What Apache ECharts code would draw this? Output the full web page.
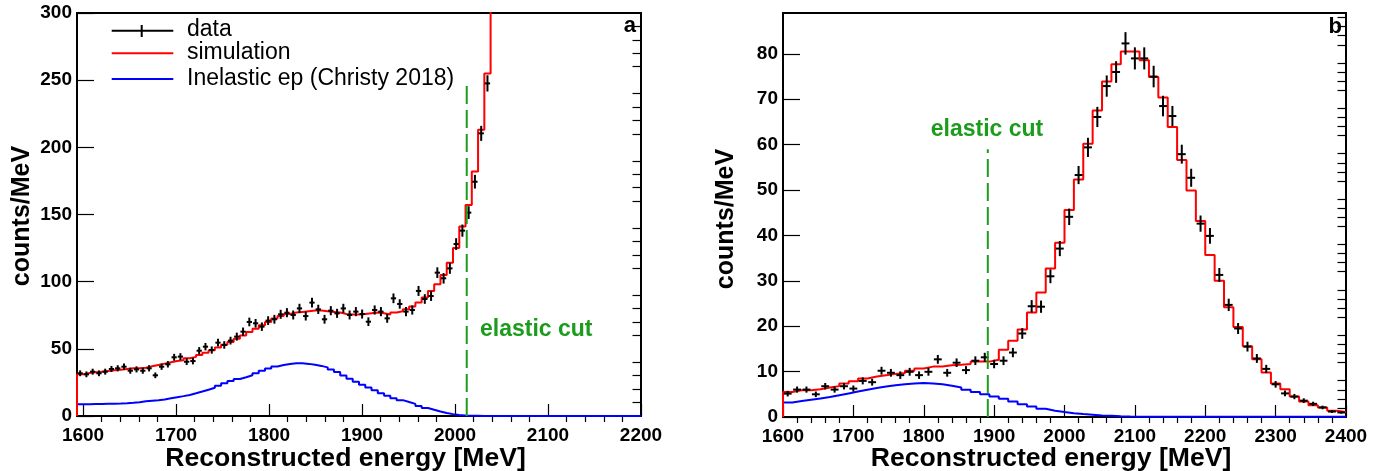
<!DOCTYPE html>
<html><head><meta charset="utf-8">
<script src="https://cdn.jsdelivr.net/npm/echarts@6/dist/echarts.min.js"></script>
<style>html,body{margin:0;padding:0;background:#fff}#c{width:1383px;height:471px}</style>
</head><body><div id="c"></div>
<script>
// ---------- panel a ----------
const aXMin = 1593.5, aXMax = 2200, aBinCount = 90;
const aYMax = 300;
const aXTicks = [1600, 1700, 1800, 1900, 2000, 2100, 2200];
const aYTicks = [0, 50, 100, 150, 200, 250, 300];
const aData = [31.8, 31.0, 33.0, 31.8, 33.0, 35.0, 35.5, 36.7, 33.7, 34.7, 33.7, 35.5, 30.3, 36.7, 38.5, 43.7, 44.2, 40.4, 40.9, 48.6,
  51.6, 49.1, 54.6, 52.9, 56.1, 59.1, 62.8, 70.0, 69.0, 66.5, 71.0, 72.0, 75.7, 76.9, 75.2, 80.1, 74.4, 84.4, 79.4, 72.0,
  78.4, 76.4, 80.1, 75.2, 77.7, 75.9, 70.2, 78.9, 77.7, 72.7, 87.6, 83.4, 77.7, 78.9, 93.1, 87.1, 89.3, 106.7, 102.5, 109.9,
  128.0, 138.0, 151.4, 174.4, 210.4, 247.6];
const aSim = [31, 32, 32.5, 33, 33.5, 34, 34.5, 35, 35.5, 35.5, 36, 37, 38, 39, 40, 41, 41.5, 43, 44, 45.5,
  47, 49, 51, 53, 55, 57.5, 60, 62.5, 65, 67.5, 70, 72.5, 74.5, 76, 77, 77.5, 78, 78.5, 78.5, 78,
  77.5, 77, 76, 75.5, 75.5, 76, 76.5, 77, 76.5, 75.5, 77, 78, 79.5, 81.5, 84.5, 88.2, 93, 98, 105, 114,
  125, 141, 157, 182, 213, 255, 420];
const aInel = [8.7, 8.8, 8.9, 9.0, 9.1, 9.2, 9.3, 9.5, 9.8, 10.3, 10.9, 11.3, 11.7, 12.3, 13.2, 14.0, 14.8, 15.7, 16.9, 18.2,
  19.6, 21.0, 22.6, 24.3, 26.1, 27.6, 28.9, 30.3, 31.8, 33.6, 35.3, 36.8, 37.9, 38.7, 39.2, 39.2, 38.8, 38.1, 37.3, 36.2,
  34.7, 32.8, 30.2, 27.8, 25.5, 23.3, 21.2, 19.2, 17.0, 15.0, 13.3, 11.8, 10.4, 9.0, 7.5, 6.0, 4.6, 3.3, 2.2, 1.4,
  0.8, 0.4, 0.2, 0.1, 0, 0, 0, 0, 0, 0, 0, 0, 0, 0, 0, 0, 0, 0, 0, 0,
  0, 0, 0, 0, 0, 0, 0, 0, 0, 0];
const aCut = [2012.6, 250];

// ---------- panel b ----------
const bXMin = 1600, bXMax = 2400, bBinCount = 60;
const bYMax = 89;
const bXTicks = [1600, 1700, 1800, 1900, 2000, 2100, 2200, 2300, 2400];
const bYTicks = [0, 10, 20, 30, 40, 50, 60, 70, 80];
const bData = [5.15, 6.04, 6.04, 5.0, 6.78, 6.04, 6.78, 6.26, 7.96, 7.67, 10.19, 9.74, 9.22, 9.96, 9.22, 9.96, 12.7, 9.74, 11.96, 10.33,
  12.4, 13.15, 11.67, 12.4, 14.2, 18.4, 24.4, 24.3, 31.0, 37.1, 44.1, 53.3, 59.4, 66.1, 72.9, 76.0, 82.3, 79.0, 79.0, 75.0,
  68.5, 66.3, 57.9, 52.7, 42.6, 39.9, 31.3, 24.7, 19.5, 15.5, 12.9, 10.6, 7.2, 5.2, 4.5, 3.6, 2.9, 2.1, 1.2, 1.0];
const bSim = [5.5, 5.9, 5.9, 6.1, 6.5, 6.8, 7.4, 7.9, 8.5, 8.9, 9.2, 9.5, 9.7, 10.2, 10.7, 11.1, 11.1, 11.4, 11.5, 11.7,
  12.2, 12.2, 12.6, 14.8, 16.8, 19.3, 23.0, 27.4, 32.7, 38.4, 45.6, 52.3, 60.2, 67.5, 73.9, 77.7, 80.5, 80.5, 78.6, 74.9,
  70.4, 63.9, 56.6, 49.9, 43.2, 35.7, 30.0, 24.2, 19.8, 15.6, 12.7, 9.8, 7.4, 6.1, 4.5, 3.4, 2.6, 2.1, 1.4, 1.1];
const bInel = [3.2, 3.5, 3.8, 4.1, 4.4, 4.8, 5.2, 5.6, 6.0, 6.4, 6.7, 7.0, 7.2, 7.4, 7.5, 7.4, 7.2, 6.9, 6.5, 6.0,
  5.5, 5.0, 4.5, 4.0, 3.4, 2.8, 2.3, 1.8, 1.4, 1.1, 0.85, 0.65, 0.5, 0.35, 0.25, 0.15, 0.1, 0.08, 0.05, 0.05,
  0.05, 0.05, 0.05, 0.05, 0.05, 0.05, 0.05, 0.05, 0.05, 0.05, 0.05, 0.05, 0.05, 0.05, 0.05, 0.05, 0.05, 0.05, 0.05, 0.05];
const bCut = [1891, 59];

const legendNames = ['data', 'simulation', 'Inelastic ep (Christy 2018)'];

// ---------- helpers ----------
const FONT = '"Liberation Sans", Arial, Helvetica, sans-serif';
const GREEN = '#1c9c1c';
function minorTicks(lo, hi, step, majors) {
  const out = [];
  for (let v = Math.ceil(lo / step) * step; v <= hi + 1e-9; v += step) {
    if (!majors.some(m => Math.abs(m - v) < 1e-6)) out.push(v);
  }
  return out;
}
function steps(vals, lo, w) {
  const pts = [[lo, 0]];
  vals.forEach((v, i) => { pts.push([lo + i * w, v]); pts.push([lo + (i + 1) * w, v]); });
  return pts;
}
const aW = (aXMax - aXMin) / aBinCount;
const bW = (bXMax - bXMin) / bBinCount;
const plain = v => String(Math.round(v));

function axisBase(extra) {
  return Object.assign({ type: 'value', splitLine: { show: false },
    axisLine: { show: true, lineStyle: { color: '#000', width: 1 } } }, extra);
}
function xMajor(grid, min, max, ticks) {
  return axisBase({ gridIndex: grid, min, max,
    axisTick: { show: true, inside: true, length: 12, customValues: ticks, lineStyle: { color: '#000', width: 1.2 } },
    axisLabel: { show: true, customValues: ticks, formatter: plain, color: '#000', fontSize: 19, fontWeight: 'bold', fontFamily: FONT, margin: 10 } });
}
function xMinor(grid, min, max, ticks) {
  return axisBase({ gridIndex: grid, min, max,
    axisTick: { show: true, inside: true, length: 6, customValues: ticks, lineStyle: { color: '#000', width: 1.2 } },
    axisLabel: { show: false } });
}
function yMajor(grid, max, ticks) {
  return axisBase({ gridIndex: grid, min: 0, max,
    axisTick: { show: true, inside: true, length: 17, customValues: ticks, lineStyle: { color: '#000', width: 1.2 } },
    axisLabel: { show: true, customValues: ticks, formatter: plain, color: '#000', fontSize: 19, fontWeight: 'bold', fontFamily: FONT, margin: 5 } });
}
function yMinor(grid, max, ticks) {
  return axisBase({ gridIndex: grid, min: 0, max,
    axisTick: { show: true, inside: true, length: 8.5, customValues: ticks, lineStyle: { color: '#000', width: 1.2 } },
    axisLabel: { show: false } });
}
function histo(name, vals, lo, w, color, xi, yi, z) {
  return { name, type: 'line', xAxisIndex: xi, yAxisIndex: yi, data: steps(vals, lo, w), showSymbol: false, symbol: 'none',
    lineStyle: { color, width: 2 }, itemStyle: { color }, clip: true, z, animation: false, silent: true };
}
function crosses(name, vals, lo, w, xi, yi) {
  return { name, type: 'custom', xAxisIndex: xi, yAxisIndex: yi, z: 5, animation: false, silent: true,
    data: vals.map((v, i) => [lo + (i + 0.5) * w, v, Math.sqrt(v / w)]),
    renderItem: (params, api) => {
      const x = api.value(0), y = api.value(1), e = api.value(2);
      const c = api.coord([x, y]);
      const t = api.coord([x, y + e]);
      const b = api.coord([x, y - e]);
      const hw = api.size([w, 0])[0] * 0.42;
      const st = { stroke: '#000', lineWidth: 2 };
      return { type: 'group', children: [
        { type: 'line', shape: { x1: c[0] - hw, y1: c[1], x2: c[0] + hw, y2: c[1] }, style: st },
        { type: 'line', shape: { x1: c[0], y1: t[1], x2: c[0], y2: b[1] }, style: st }
      ] };
    } };
}
function cutLine(cut, xi, yi) {
  return { type: 'line', xAxisIndex: xi, yAxisIndex: yi, data: [[cut[0], 0], [cut[0], cut[1]]], showSymbol: false, symbol: 'none',
    lineStyle: { color: GREEN, width: 2, type: [18, 6] }, z: 6, animation: false, silent: true };
}
function txt(text, x, y, size, weight, color, align, vAlign, rot) {
  return { type: 'text', x, y, rotation: rot || 0, z: 10, silent: true,
    style: { text, fill: color, fontSize: size, fontWeight: weight, fontFamily: FONT, align, verticalAlign: vAlign } };
}
function seg(x1, y1, x2, y2, color) {
  return { type: 'line', z: 10, silent: true, shape: { x1, y1, x2, y2 }, style: { stroke: color, lineWidth: 2 } };
}

const chart = echarts.init(document.getElementById('c'), null, { renderer: 'canvas' });
chart.setOption({
  backgroundColor: '#fff',
  animation: false,
  grid: [
    { left: 77, top: 13, width: 564, height: 403, show: true, borderColor: '#000', borderWidth: 2, backgroundColor: 'transparent' },
    { left: 783, top: 13, width: 563, height: 404, show: true, borderColor: '#000', borderWidth: 2, backgroundColor: 'transparent' }
  ],
  xAxis: [
    xMajor(0, aXMin, aXMax, aXTicks),
    xMinor(0, aXMin, aXMax, minorTicks(aXMin, aXMax, 20, aXTicks)),
    xMajor(1, bXMin, bXMax, bXTicks),
    xMinor(1, bXMin, bXMax, minorTicks(bXMin, bXMax, 20, bXTicks))
  ],
  yAxis: [
    yMajor(0, aYMax, aYTicks),
    yMinor(0, aYMax, minorTicks(0, aYMax, 10, aYTicks)),
    yMajor(1, bYMax, bYTicks),
    yMinor(1, bYMax, minorTicks(0, bYMax, 2, bYTicks))
  ],
  series: [
    histo(legendNames[2], aInel, aXMin, aW, '#0000ff', 0, 0, 2),
    histo(legendNames[1], aSim, aXMin, aW, '#ff0000', 0, 0, 3),
    crosses(legendNames[0], aData, aXMin, aW, 0, 0),
    cutLine(aCut, 0, 0),
    histo(legendNames[2], bInel, bXMin, bW, '#0000ff', 2, 2, 2),
    histo(legendNames[1], bSim, bXMin, bW, '#ff0000', 2, 2, 3),
    crosses(legendNames[0], bData, bXMin, bW, 2, 2),
    cutLine(bCut, 2, 2)
  ],
  graphic: [
    txt('counts/MeV', 22, 216, 25, 'bold', '#000', 'center', 'middle', Math.PI / 2),
    txt('counts/MeV', 726, 219, 25, 'bold', '#000', 'center', 'middle', Math.PI / 2),
    txt('Reconstructed energy [MeV]', 345.5, 459, 26.6, 'bold', '#000', 'center', 'middle'),
    txt('Reconstructed energy [MeV]', 1051, 459, 26.6, 'bold', '#000', 'center', 'middle'),
    txt('a', 636, 26, 22, 'bold', '#000', 'right', 'middle'),
    txt('b', 1342, 27, 22, 'bold', '#000', 'right', 'middle'),
    txt('elastic cut', 480, 330, 23, 'bold', GREEN, 'left', 'middle'),
    txt('elastic cut', 987, 130, 23, 'bold', GREEN, 'center', 'middle'),
    seg(111.7, 30.7, 173.3, 30.7, '#000'),
    seg(141.7, 25, 141.7, 37, '#000'),
    seg(111.7, 53.3, 173.3, 53.3, '#ff0000'),
    seg(111.7, 79, 173.3, 79, '#0000ff'),
    txt(legendNames[0], 187, 30, 23, 'normal', '#000', 'left', 'middle'),
    txt(legendNames[1], 187, 53, 23, 'normal', '#000', 'left', 'middle'),
    txt(legendNames[2], 187, 78.5, 23, 'normal', '#000', 'left', 'middle')
  ]
});
</script></body></html>
